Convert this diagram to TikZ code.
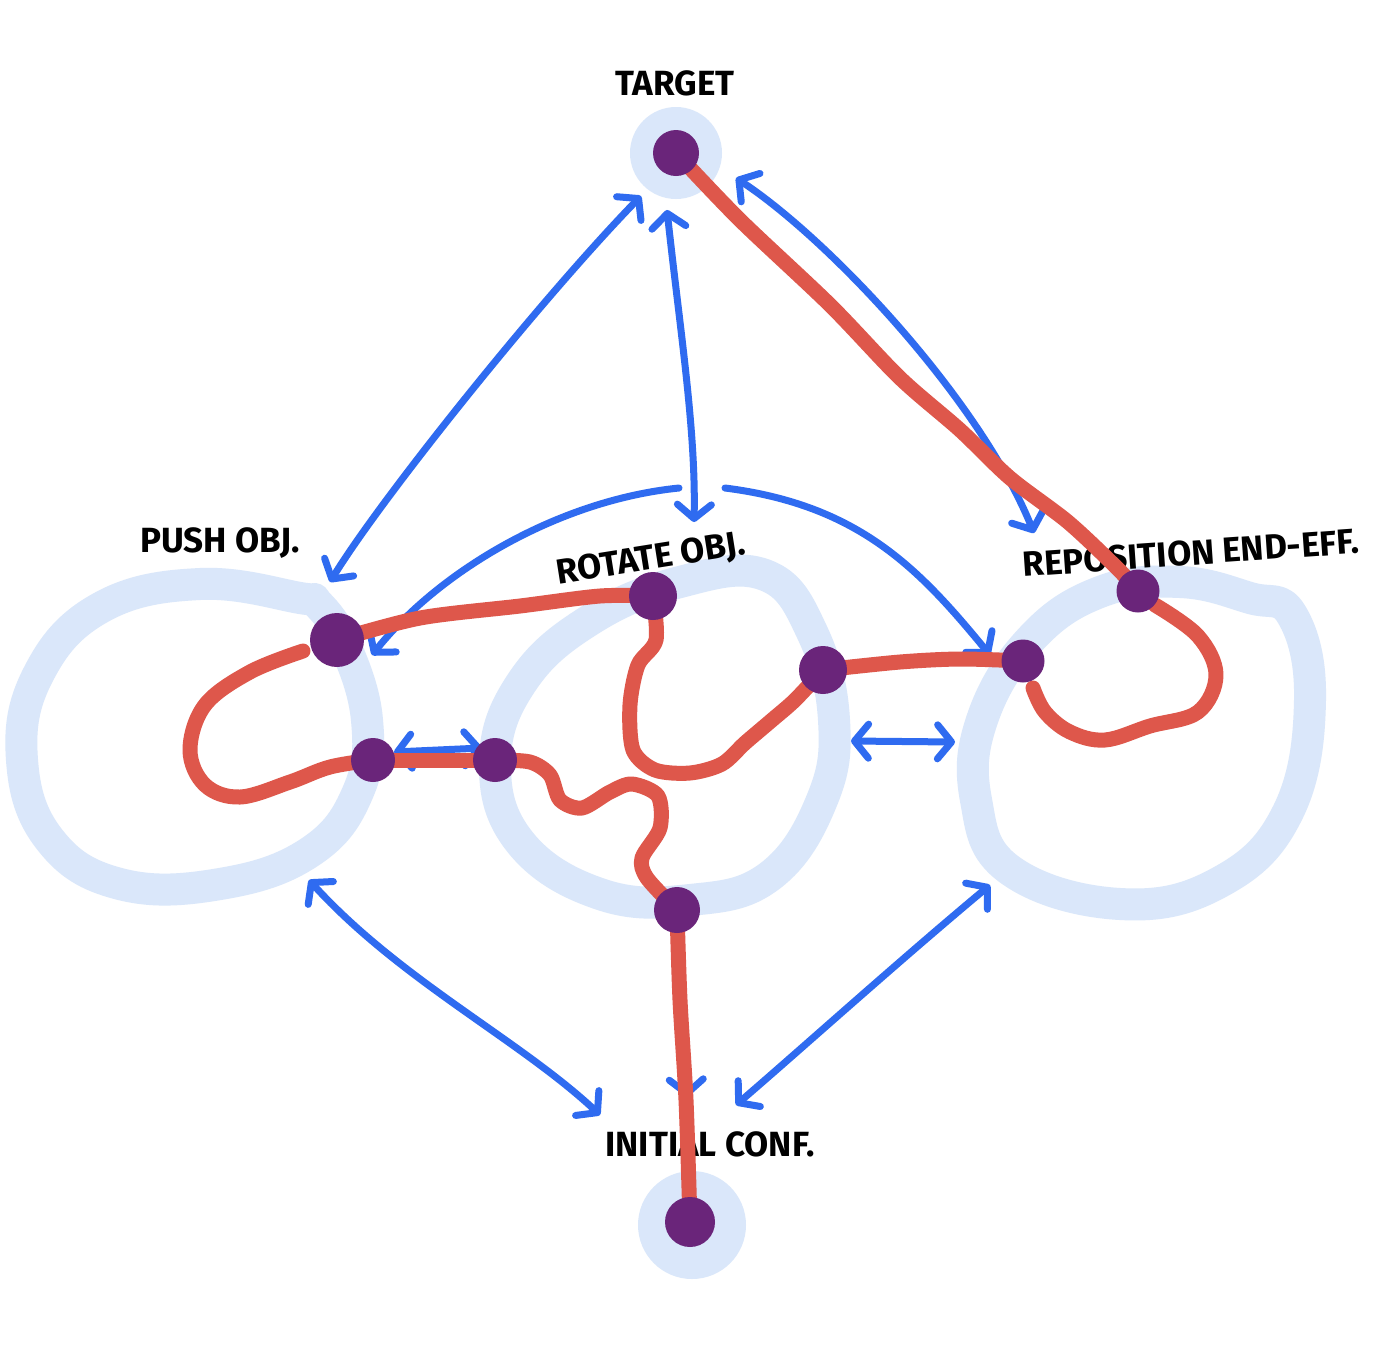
\documentclass[tikz,border=0pt]{standalone}
\usepackage{fontspec}
\setmainfont{Fira Sans}
\usetikzlibrary{arrows.meta}
\definecolor{ringblue}{HTML}{DAE7FA}
\definecolor{arrowblue}{HTML}{2F6BF0}
\definecolor{pathred}{HTML}{DE574B}
\definecolor{dotpurple}{HTML}{6A257A}
\pgfdeclarelayer{bg}
\pgfdeclarelayer{mid}
\pgfsetlayers{bg,mid,main}
\begin{document}
\begin{tikzpicture}[x=1pt,y=-1pt,
  ringline/.style={draw=ringblue,line width=32pt,line cap=round,line join=round},
  ringdisk/.style={circle,fill=ringblue,inner sep=0pt},
  dot/.style={circle,fill=dotpurple,inner sep=0pt,minimum size=#1},
  dot/.default=48pt,
  redpath/.style={draw=pathred,line width=15pt,line cap=round,line join=round},
  bluearrow/.style={draw=arrowblue,line width=7pt,line cap=round,
    arrows={Straight Barb[length=14pt,width=34pt,line width=7pt,round]-Straight Barb[length=14pt,width=34pt,line width=7pt,round]}},
  onearrow/.style={draw=arrowblue,line width=7pt,line cap=round,
    arrows={-Straight Barb[length=14pt,width=34pt,line width=7pt,round]}},
  lbl/.style={font=\fontsize{35}{35}\selectfont\bfseries,text=black,inner sep=0pt}]
\useasboundingbox (0,0) rectangle (1377,1350);

% dot positions
\coordinate (T) at (676,153);
\coordinate (P1) at (337,640);
\coordinate (P2) at (373,760);
\coordinate (R1) at (653,596);
\coordinate (R2) at (495,760);
\coordinate (R3) at (823,670);
\coordinate (R4) at (677,910);
\coordinate (E1) at (1138,591);
\coordinate (E2) at (1023,661);
\coordinate (I) at (690,1222);

\begin{pgfonlayer}{bg}
  \fill[white] (0,0) rectangle (1377,1350);
  % light blue state regions
  \node[ringdisk,minimum size=92pt] (targetzone) at (676,153) {};
  \node[ringdisk,minimum size=108pt] (initzone) at (692,1225) {};
  \draw[ringline] plot[smooth cycle,tension=0.7] coordinates {
    (300,598) (200,584) (100,608) (38,675) (22,760) (50,840) (120,884)
    (220,884) (310,852) (358,792) (367,720) (345,645) (318,604)};
  \draw[ringline] plot[smooth cycle,tension=0.7] coordinates {
    (765,575) (680,582) (590,620) (522,682) (495,762) (520,842) (600,894)
    (690,900) (770,876) (822,800) (834,720) (812,632)};
  \draw[ringline] plot[smooth cycle,tension=0.7] coordinates {
    (1250,598) (1180,582) (1100,592) (1030,640) (982,720) (976,800)
    (1010,870) (1120,904) (1220,882) (1288,812) (1310,700) (1292,615)};
  % labels
  \node[lbl] (ltarget) at (675,83) {TARGET};
  \node[lbl] (lpush) at (220,543) {PUSH OBJ.};
  \node[lbl,rotate=9] (lrotate) at (651,560) {ROTATE OBJ.};
  \node[lbl,rotate=4] (lrepos) at (1191,553) {REPOSITION END-EFF.};
  \node[lbl] (linit) at (710,1144) {INITIAL CONF.};
\end{pgfonlayer}

\begin{pgfonlayer}{mid}
  % blue transition arrows
  \coordinate (a1s) at (641,196); \coordinate (a1e) at (330,582);
  \draw[bluearrow] (a1s) .. controls (540,300) and (380,500) .. (a1e);
  \coordinate (a2s) at (667,210); \coordinate (a2e) at (694,522);
  \draw[bluearrow] (a2s) .. controls (680,330) and (696,430) .. (a2e);
  \coordinate (a3s) at (736,178); \coordinate (a3e) at (1034,533);
  \draw[bluearrow] (a3s) .. controls (830,240) and (980,400) .. (a3e);
  \coordinate (a4s) at (679,488); \coordinate (a4e) at (372,655);
  \draw[onearrow] (a4s) .. controls (560,500) and (440,570) .. (a4e);
  \coordinate (a5s) at (725,488); \coordinate (a5e) at (990,655);
  \draw[onearrow] (a5s) .. controls (860,505) and (920,570) .. (a5e);
  \coordinate (a6s) at (394,752); \coordinate (a6e) at (482,748);
  \draw[bluearrow] (a6s) -- (a6e);
  \coordinate (a7s) at (851,741); \coordinate (a7e) at (955,742);
  \draw[bluearrow] (a7s) -- (a7e);
  \coordinate (a8s) at (309,880); \coordinate (a8e) at (600,1115);
  \draw[bluearrow] (a8s) .. controls (400,980) and (520,1040) .. (a8e);
  \coordinate (a9s) at (680,930); \coordinate (a9e) at (687,1097);
  \draw[onearrow] (a9s) -- (a9e);
  \coordinate (a10s) at (990,885); \coordinate (a10e) at (736,1105);
  \draw[bluearrow] (a10s) .. controls (900,960) and (800,1050) .. (a10e);

  % red solution path
  \draw[redpath] plot[smooth,tension=0.5] coordinates {
    (T) (740,220) (830,305) (900,378) (960,430) (1010,478) (1068,522) (1117,568) (E1)};
  \draw[redpath] plot[smooth,tension=0.5] coordinates {
    (P1) (420,618) (520,606) (600,596) (R1)};
  \draw[redpath] plot[smooth,tension=0.6] coordinates {
    (303,651) (250,672) (205,705) (190,750) (205,785) (240,797) (290,782) (330,767) (P2)};
  \draw[redpath] (P2) -- (R2);
  \draw[redpath] plot[smooth,tension=0.5] coordinates {
    (R2) (530,762) (550,775) (560,800) (582,808) (610,792) (632,784) (658,796)
    (660,828) (642,858) (647,878) (R4)};
  \draw[redpath] plot[smooth,tension=0.5] coordinates {
    (R1) (656,640) (638,665) (630,705) (633,750) (655,770) (690,773) (722,764)
    (745,743) (772,720) (795,700) (R3)};
  \draw[redpath] plot[smooth,tension=0.5] coordinates {
    (R3) (900,662) (960,659) (E2)};
  \draw[redpath] plot[smooth,tension=0.6] coordinates {
    (1155,605) (1198,636) (1216,675) (1198,712) (1150,726) (1105,740) (1070,732) (1045,712) (1033,688)};
  \draw[redpath] plot[smooth,tension=0.5] coordinates {
    (R4) (680,1000) (686,1100) (I)};
\end{pgfonlayer}

% purple states
\node[dot=46pt] (nT) at (T) {};
\node[dot=54pt] (nP1) at (P1) {};
\node[dot=44pt] (nP2) at (P2) {};
\node[dot=48pt] (nR1) at (R1) {};
\node[dot=44pt] (nR2) at (R2) {};
\node[dot=48pt] (nR3) at (R3) {};
\node[dot=46pt] (nR4) at (R4) {};
\node[dot=43pt] (nE1) at (E1) {};
\node[dot=43pt] (nE2) at (E2) {};
\node[dot=50pt] (nI) at (I) {};
\end{tikzpicture}
\end{document}
